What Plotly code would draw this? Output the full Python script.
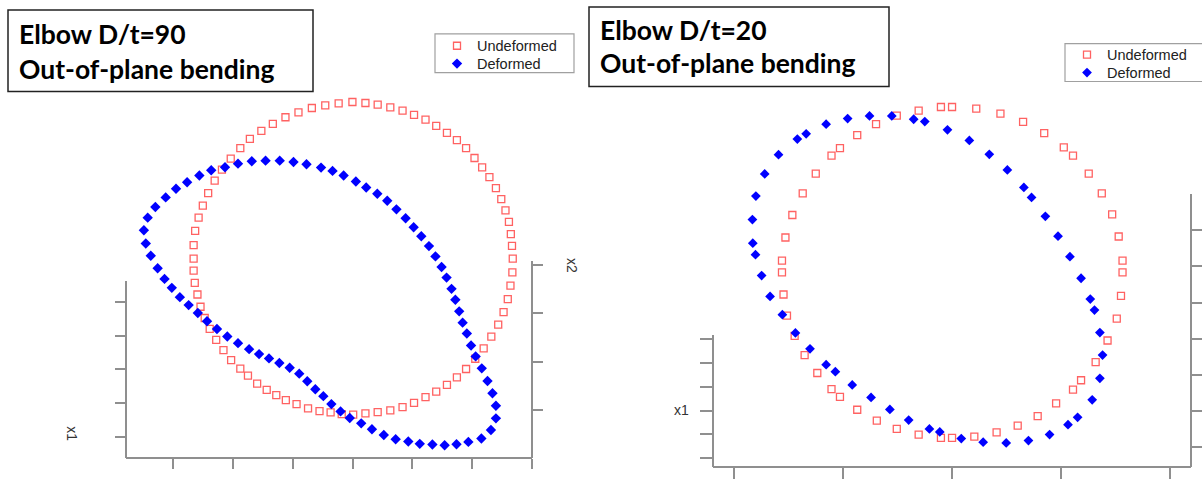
import plotly.graph_objects as go

W, H = 1202, 479

# ---------------- data (image units, y grows downward) -------------
# Left panel: Elbow D/t=90
L_UND_X = [921, 885, 850, 815, 780, 746, 713, 683, 653, 628, 603, 580, 561, 544, 530, 519, 510, 506, 506, 506,
           509, 516, 524, 535, 548, 565, 584, 604, 628, 648, 672, 697, 722, 747, 775, 805, 835, 864, 893, 923,
           955, 987, 1020, 1052, 1082, 1112, 1140, 1168, 1194, 1218, 1242, 1264, 1284, 1302, 1316, 1327, 1334, 1339, 1340, 1338,
           1335, 1330, 1321, 1310, 1296, 1279, 1260, 1240, 1218, 1194, 1168, 1140, 1112, 1082, 1052, 1020, 987, 955]
L_UND_Y = [308, 312, 318, 326, 339, 354, 374, 395, 419, 447, 479, 512, 545, 583, 621, 657, 697, 740, 781, 817,
           854, 889, 926, 960, 993, 1026, 1057, 1087, 1113, 1134, 1158, 1177, 1193, 1208, 1220, 1233, 1241, 1245, 1250, 1252,
           1248, 1244, 1239, 1229, 1216, 1199, 1182, 1162, 1139, 1114, 1083, 1052, 1016, 980, 942, 903, 862, 822, 781, 742,
           707, 670, 635, 601, 568, 535, 505, 477, 447, 423, 401, 380, 361, 347, 334, 324, 316, 311]
L_DEF_X = [694, 658, 622, 588, 552, 521, 489, 460, 433, 406, 386, 376, 381, 394, 412, 430, 449, 470, 493, 517,
           541, 567, 594, 622, 651, 677, 703, 730, 757, 782, 803, 824, 845, 866, 890, 914, 944, 972, 1003, 1034,
           1067, 1097, 1130, 1162, 1193, 1224, 1258, 1283, 1296, 1296, 1287, 1274, 1259, 1243, 1231, 1220, 1209, 1200, 1190, 1180,
           1167, 1154, 1138, 1121, 1101, 1081, 1060, 1036, 1012, 986, 957, 930, 898, 869, 839, 801, 767, 731]
L_DEF_Y = [485, 487, 494, 505, 514, 530, 550, 570, 596, 625, 657, 695, 735, 772, 810, 842, 869, 897, 921, 945,
           970, 993, 1016, 1036, 1054, 1069, 1082, 1096, 1110, 1128, 1151, 1175, 1196, 1220, 1242, 1262, 1278, 1296, 1313, 1326,
           1333, 1340, 1342, 1344, 1341, 1334, 1324, 1298, 1263, 1225, 1187, 1150, 1112, 1076, 1043, 1007, 974, 940, 905, 872,
           838, 806, 774, 743, 713, 686, 659, 632, 606, 585, 566, 548, 530, 516, 506, 496, 489, 485]

# Right panel: Elbow D/t=20
R_UND_X = [888, 917, 980, 1043, 1102, 1157, 1208, 1232, 1273, 1307, 1334, 1351, 1361, 1361, 1357, 1346, 1322, 1291, 1253, 1232,
           1188, 1140, 1088, 1033, 975, 917, 888, 830, 773, 721, 670, 625, 603, 566, 533, 507, 487, 478, 474, 474,
           483, 501, 528, 562, 603, 625, 670, 719, 773, 830]
R_UND_Y = [323, 323, 328, 343, 368, 402, 445, 470, 524, 584, 647, 714, 787, 822, 893, 962, 1028, 1093, 1148, 1176,
           1218, 1256, 1285, 1305, 1318, 1322, 1322, 1312, 1295, 1270, 1237, 1198, 1175, 1126, 1072, 1014, 953, 889, 822, 787,
           717, 649, 584, 524, 470, 447, 408, 375, 349, 334]
R_DEF_X = [702, 760, 817, 846, 905, 962, 1014, 1061, 1104, 1124, 1160, 1193, 1224, 1253, 1277, 1288, 1302, 1309, 1302, 1282,
           1244, 1219, 1171, 1116, 1058, 998, 941, 885, 858, 804, 755, 706, 657, 613, 589, 547, 509, 475, 443, 421,
           405, 398, 397, 406, 429, 465, 514, 537, 589, 645]
R_DEF_Y = [350, 350, 360, 367, 392, 424, 466, 513, 566, 596, 653, 713, 775, 840, 903, 936, 1004, 1072, 1142, 1207,
           1260, 1282, 1312, 1330, 1337, 1335, 1324, 1304, 1295, 1268, 1236, 1200, 1162, 1122, 1101, 1053, 1005, 950, 895, 832,
           769, 734, 663, 592, 525, 467, 420, 404, 375, 358]

SERIES_NAMES = ["Undeformed", "Deformed"]
L_TITLE = ["Elbow D/t=90", "Out-of-plane bending"]
R_TITLE = ["Elbow D/t=20", "Out-of-plane bending"]
AXIS_LABELS = ["x1", "x2", "x1"]

L_BOTTOM_TICKS = [1, 2, 3, 4, 5, 6, 7]
L_LEFT_TICKS = [1, 2, 3, 4, 5]
L_RIGHT_TICKS = [1, 2, 3, 4]
R_BOTTOM_TICKS = [1, 2, 3, 4, 5]
R_LEFT_TICKS = [1, 2, 3, 4, 5, 6]
R_RIGHT_TICKS = [1, 2, 3, 4, 5, 6, 7]

# ---------------- styling -------------
UND_COLOR = "#ff6262"
DEF_COLOR = "#0000ff"
AX_COLOR = "#8f8f8f"
LEG_FONT = dict(family="Liberation Sans, Arial, sans-serif", size=14.5, color="#222222")
TITLE_FONT = dict(family="Lato, sans-serif", size=26.5, color="#000000")
LABEL_FONT = dict(family="Liberation Sans, Arial, sans-serif", size=14, color="#333333")


def px(x):
    return x / W


def py(y):
    return 1 - y / H


fig = go.Figure()

und_marker = dict(symbol="square-open", size=7, color=UND_COLOR, line=dict(width=1.3, color=UND_COLOR))
def_marker = dict(symbol="diamond", size=8, color=DEF_COLOR, line=dict(width=0))

fig.add_trace(go.Scatter(x=L_UND_X, y=L_UND_Y, mode="markers", name=SERIES_NAMES[0],
                         marker=und_marker, xaxis="x", yaxis="y", legend="legend"))
fig.add_trace(go.Scatter(x=L_DEF_X, y=L_DEF_Y, mode="markers", name=SERIES_NAMES[1],
                         marker=def_marker, xaxis="x", yaxis="y", legend="legend3"))
fig.add_trace(go.Scatter(x=R_UND_X, y=R_UND_Y, mode="markers", name=SERIES_NAMES[0],
                         marker=und_marker, xaxis="x2", yaxis="y2", legend="legend2"))
fig.add_trace(go.Scatter(x=R_DEF_X, y=R_DEF_Y, mode="markers", name=SERIES_NAMES[1],
                         marker=dict(def_marker, size=7.5), xaxis="x2", yaxis="y2", legend="legend4"))

# invisible carriers for the decorative 3-D style axes
for xa, ya in [("x3", "y3"), ("x3", "y4"), ("x4", "y5"), ("x4", "y6")]:
    fig.add_trace(go.Scatter(x=[None], y=[None], mode="markers", showlegend=False,
                             hoverinfo="skip", xaxis=xa, yaxis=ya))

hidden = dict(visible=False, showgrid=False, zeroline=False)
deco = dict(showline=True, linecolor=AX_COLOR, linewidth=2, ticks="outside", tickcolor=AX_COLOR,
            tickwidth=2, ticklen=10, showticklabels=False, showgrid=False, zeroline=False,
            tickmode="array", fixedrange=True)
leg = dict(xanchor="left", yanchor="top", font=LEG_FONT, borderwidth=0, bgcolor="rgba(0,0,0,0)")

fig.update_layout(
    width=W, height=H, autosize=False,
    margin=dict(l=0, r=0, t=0, b=0),
    paper_bgcolor="white", plot_bgcolor="rgba(0,0,0,0)",
    xaxis=dict(hidden, domain=[0, 600 / W], range=[0, 1568]),
    yaxis=dict(hidden, domain=[0, 1], range=[1437, 0]),
    xaxis2=dict(hidden, domain=[600 / W, 1], range=[0, 1568], anchor="y2"),
    yaxis2=dict(hidden, domain=[0, 1], range=[1437, 0], anchor="x2"),
    xaxis3=dict(deco, domain=[px(125.5), px(532)], anchor="free", position=py(461),
                range=[0.2, 7], tickvals=L_BOTTOM_TICKS),
    yaxis3=dict(deco, domain=[py(461), py(283)], anchor="free", position=px(125.5), side="left",
                range=[0.384, 5.604], tickvals=L_LEFT_TICKS),
    yaxis4=dict(deco, domain=[py(461), py(263)], anchor="free", position=px(532), side="right",
                range=[0, 4.08], tickvals=L_RIGHT_TICKS),
    xaxis4=dict(deco, domain=[px(713.2), px(1191)], anchor="free", position=py(469.5),
                range=[0.805, 5.192], tickvals=R_BOTTOM_TICKS, ticklen=12),
    yaxis5=dict(deco, domain=[py(469.5), py(337)], anchor="free", position=px(713.2), side="left",
                range=[0.644, 6.188], tickvals=R_LEFT_TICKS, ticklen=12),
    yaxis6=dict(deco, domain=[py(469.5), py(195)], anchor="free", position=px(1191), side="right",
                range=[0.448, 8.017], tickvals=R_RIGHT_TICKS, ticklen=11),
    legend=dict(leg, x=px(437), y=py(30)),
    legend3=dict(leg, x=px(437), y=py(48)),
    legend2=dict(leg, x=px(1067), y=py(39)),
    legend4=dict(leg, x=px(1067), y=py(57)),
    showlegend=True,
)

# legend frames
for (x0, y0, x1, y1) in [(435, 34, 574, 73), (1065, 44, 1204, 82)]:
    fig.add_shape(type="rect", xref="paper", yref="paper", x0=px(x0), x1=px(x1), y0=py(y1), y1=py(y0),
                  line=dict(color="#a0a0a0", width=1.2), fillcolor="white", layer="below")

# title boxes
for (x0, y0, x1, y1) in [(8, 10, 313, 92), (589, 7, 889, 87)]:
    fig.add_shape(type="rect", xref="paper", yref="paper", x0=px(x0), x1=px(x1), y0=py(y1), y1=py(y0),
                  line=dict(color="#222222", width=1.5), fillcolor="white", layer="above")

for lines, x, ys in [(L_TITLE, 17, (34.4, 69)), (R_TITLE, 598, (30.5, 63.8))]:
    for text, yc in zip(lines, ys):
        fig.add_annotation(xref="paper", yref="paper", x=px(x), y=py(yc), xanchor="left", yanchor="middle",
                           text="<b>" + text + "</b>", showarrow=False, font=TITLE_FONT)

# axis labels
for text, (x, y), angle in zip(AXIS_LABELS, [(71.7, 436.7), (571.7, 267.5), (681.7, 413)], [90, 90, 0]):
    fig.add_annotation(xref="paper", yref="paper", x=px(x), y=py(y), xanchor="center", yanchor="middle",
                       text=text, showarrow=False, textangle=angle, font=LABEL_FONT)

fig.write_html("out.html", config={"displayModeBar": False},
               post_script="document.body.style.margin='0px';")
